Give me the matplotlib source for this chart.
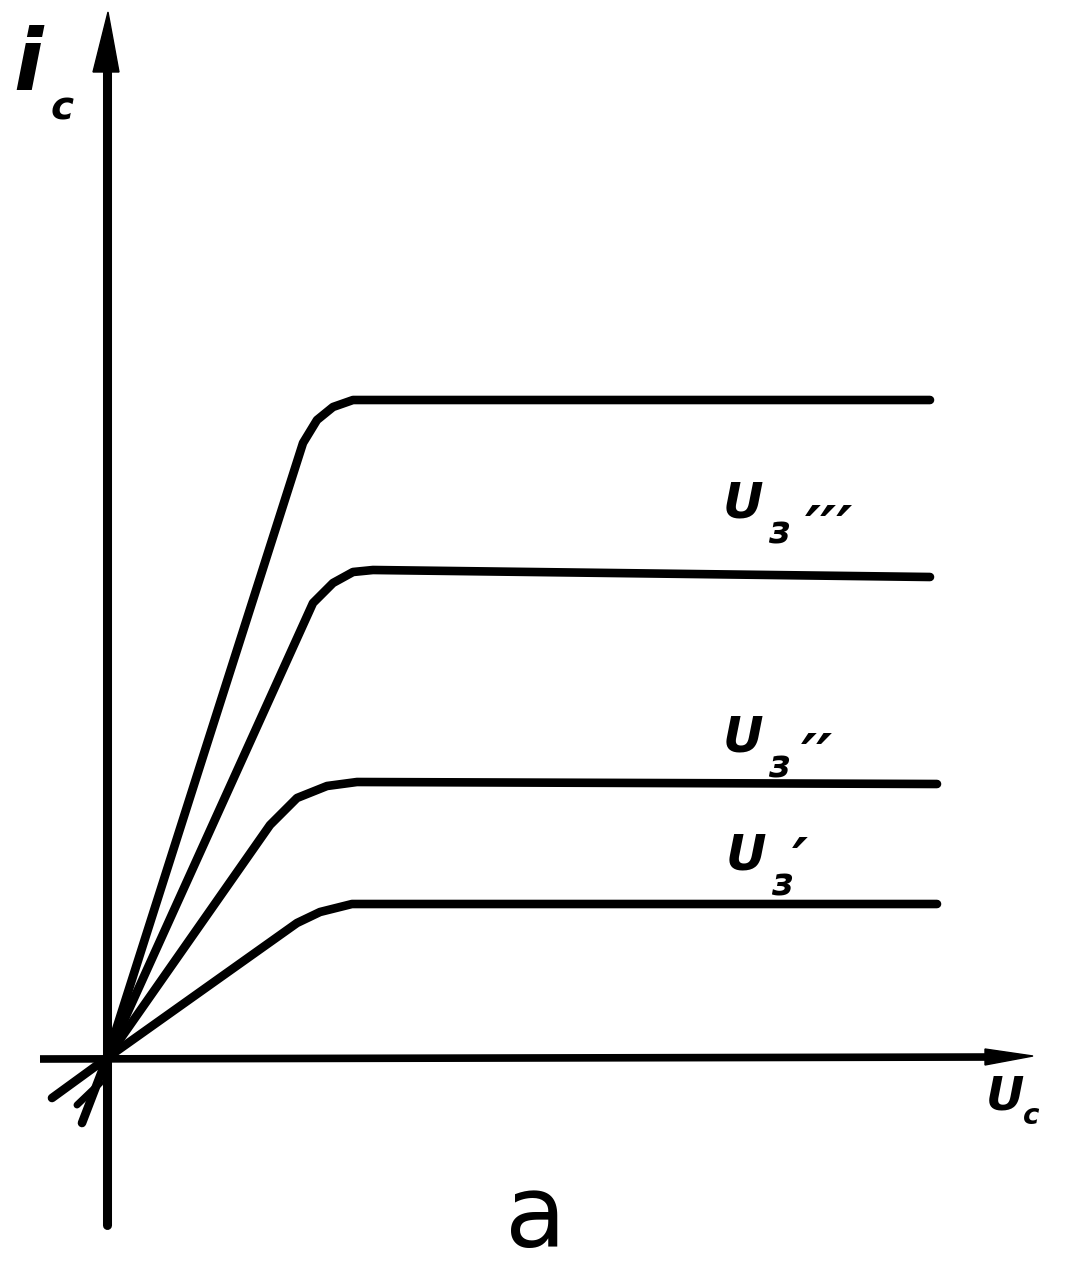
import matplotlib
matplotlib.use("Agg")
import matplotlib.pyplot as plt
from matplotlib.patches import Polygon

# output characteristics i_c(u_c) (arbitrary units)
u_1 = [0.0, 1.00, 1.96, 2.10, 2.26, 2.46, 8.23]
i_1 = [0.0, 3.14, 6.15, 6.38, 6.51, 6.58, 6.58]

u_2 = [0.0, 2.06, 2.26, 2.46, 2.66, 8.23]
i_2 = [0.0, 4.55, 4.75, 4.86, 4.88, 4.81]

u_3 = [-0.25, 0.0, 1.63, 1.90, 2.20, 2.50, 8.30]
i_3 = [-0.65, 0.0, 2.33, 2.60, 2.72, 2.76, 2.74]

u_4 = [-0.55, 0.0, 1.90, 2.13, 2.45, 8.30]
i_4 = [-0.40, 0.0, 1.35, 1.46, 1.54, 1.54]

curves = [(u_1, i_1), (u_2, i_2), (u_3, i_3), (u_4, i_4)]

# gate voltage labels (U_з with primes) and where they sit
gate_primes = ["′′′", "′′", "′"]
gate_label_pos = [(6.36, 5.55), (6.36, 3.21), (6.39, 2.03)]
prime_offset = [(0.86, -0.30), (0.74, -0.24), (0.54, -0.10)]

fig = plt.figure(figsize=(10.67, 12.87), dpi=100)
ax = fig.add_axes([0, 0, 1, 1])
ax.set_xlim(-1.07, 9.60)
ax.set_ylim(-2.29, 10.58)
ax.axis("off")

ink = "black"

# axes with arrows
ax.plot([0, 0], [-1.67, 9.9], color=ink, lw=6.5, solid_capstyle="round")
ax.add_patch(Polygon([[-0.14, 9.86], [0.12, 9.86], [0.01, 10.46]], closed=True, color=ink))
ax.plot([-0.67, 8.9], [-0.01, 0.01], color=ink, lw=5.5, solid_capstyle="butt")
ax.add_patch(Polygon([[8.78, 0.09], [8.78, -0.07], [9.26, 0.02]], closed=True, color=ink))
ax.plot([-0.07, -0.30], [-0.25, -0.47], color=ink, lw=5, solid_capstyle="round")

for u, i in curves:
    ax.plot(u, i, color=ink, lw=6.2, solid_capstyle="round", solid_joinstyle="round")

hand = dict(family="DejaVu Sans", fontweight="bold", fontstyle="oblique", color=ink)

for primes, (x, y), (dx, dy) in zip(gate_primes, gate_label_pos, prime_offset):
    ax.text(x, y, "U", fontsize=36, ha="center", va="center", **hand)
    ax.text(x + 0.36, y - 0.30, "з", fontsize=27, ha="center", va="center", **hand)
    ax.text(x + dx, y + dy, primes, fontsize=44, ha="center", va="center", **hand)

ax.text(-0.79, 9.92, "i", fontsize=62, ha="center", va="center", **hand)
ax.text(-0.45, 9.50, "c", fontsize=28, ha="center", va="center", **hand)
ax.text(8.98, -0.39, "U", fontsize=34, ha="center", va="center", **hand)
ax.text(9.24, -0.58, "c", fontsize=20, ha="center", va="center", **hand)
ax.text(4.29, -1.62, "a", fontsize=72, ha="center", va="center", color=ink, family="DejaVu Sans")

fig.savefig("out.png", dpi=100, facecolor="white")
